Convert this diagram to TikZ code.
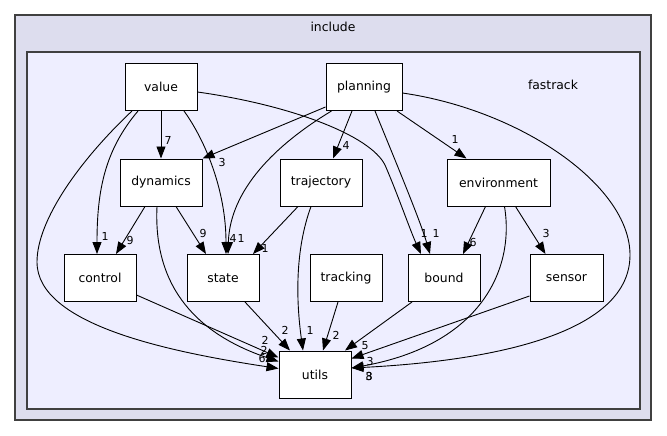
\documentclass[tikz,border=0pt]{standalone}
\usepackage{fontspec}
\setmainfont{DejaVu Sans}
\usetikzlibrary{arrows.meta}
\definecolor{outerfill}{HTML}{DDDDEE}
\definecolor{innerfill}{HTML}{EEEEFF}
\begin{document}
\begin{tikzpicture}[x=1pt,y=-1pt,
  dirbox/.style={draw=black, line width=1pt, fill=white, inner sep=0pt,
    minimum width=72pt, minimum height=47pt, font=\fontsize{12.4}{14}\selectfont},
  cluster/.style={draw=black!75, line width=1.2pt},
  dep/.style={draw=black, line width=0.9pt, -{Triangle[length=12pt,width=9pt]}},
  lbl/.style={inner sep=0pt, font=\fontsize{11}{12}\selectfont}]
\useasboundingbox (0,0) rectangle (667,436);
\filldraw[cluster, fill=outerfill] (15,15) rectangle (651,420);
\filldraw[cluster, fill=innerfill] (27,52) rectangle (640,409);
\node[font=\fontsize{12.4}{14}\selectfont] (incl) at (333,27) {include};
\node[font=\fontsize{12.4}{14}\selectfont] (fast) at (553,85) {fastrack};

\node[dirbox] (value) at (161,87) {value};
\node[dirbox, minimum width=76pt] (planning) at (364,87) {planning};
\node[dirbox, minimum width=82pt] (dynamics) at (161,182.5) {dynamics};
\node[dirbox, minimum width=82pt] (trajectory) at (321,182.5) {trajectory};
\node[dirbox, minimum width=103pt] (environment) at (498.5,182.5) {environment};
\node[dirbox] (control) at (100,278) {control};
\node[dirbox] (state) at (223,278) {state};
\node[dirbox] (tracking) at (346,278) {tracking};
\node[dirbox] (bound) at (444,278) {bound};
\node[dirbox, minimum width=73pt] (sensor) at (566.5,278) {sensor};
\node[dirbox] (utils) at (315,374.5) {utils};

% value
\draw[dep] (value.south) -- (dynamics.north) node[lbl] at (168,140) {7};
\draw[dep] ([xshift=23pt]value.south) .. controls (205,140) and (226,190) .. ([xshift=3pt]state.north)
  node[lbl] at (233,238) {4};
\draw[dep] ([xshift=-23pt]value.south) .. controls (105,150) and (97,190) .. ([xshift=-3pt]control.north)
  node[lbl] at (105,236) {1};
\draw[dep] ([xshift=-29pt]value.south) .. controls (80,160) and (37,220) .. (37,262)
  .. controls (37,325) and (170,352) .. ([yshift=6pt]utils.west)
  node[lbl] at (262,358) {6};
\draw[dep] ([yshift=-5pt]value.east) .. controls (290,105) and (370,135) .. (385,165)
  .. controls (398,195) and (410,230) .. ([xshift=-23pt]bound.north)
  node[lbl] at (424,233) {1};

% planning
\draw[dep] ([yshift=-20pt]planning.west) -- (dynamics.north east) node[lbl] at (222,162) {3};
\draw[dep] ([xshift=6pt]planning.south west) .. controls (275,145) and (230,190) .. ([xshift=5pt]state.north)
  node[lbl] at (241,238) {1};
\draw[dep] ([xshift=-12pt]planning.south) -- ([xshift=12pt]trajectory.north) node[lbl] at (346,145) {4};
\draw[dep] ([xshift=11pt]planning.south) .. controls (395,160) and (420,220) .. ([xshift=-14pt]bound.north)
  node[lbl] at (436,233) {1};
\draw[dep] ([xshift=33pt]planning.south) -- ([xshift=-32pt]environment.north) node[lbl] at (455,139) {1};
\draw[dep] ([yshift=-6pt]planning.east) .. controls (520,110) and (630,185) .. (630,255)
  .. controls (630,340) and (470,362) .. ([yshift=6.5pt]utils.east)
  node[lbl] at (369,376) {8};

% dynamics
\draw[dep] ([xshift=-16pt]dynamics.south) -- ([xshift=16pt]control.north) node[lbl] at (130,240) {9};
\draw[dep] ([xshift=15pt]dynamics.south) -- ([xshift=-17pt]state.north) node[lbl] at (203,233) {9};
\draw[dep] ([xshift=-4pt]dynamics.south) .. controls (153,290) and (200,335) .. ([yshift=13pt]utils.west)
  node[lbl] at (264,350) {2};

% control
\draw[dep] ([yshift=-17pt]control.east) -- ([yshift=17pt]utils.west) node[lbl] at (265,340) {2};

% trajectory
\draw[dep] ([xshift=-23pt]trajectory.south) -- ([xshift=30pt]state.north) node[lbl] at (265,248) {1};
\draw[dep] ([xshift=-10pt]trajectory.south) .. controls (295,250) and (296,300) .. ([xshift=-12pt]utils.north)
  node[lbl] at (310,330) {1};

% state, tracking, bound
\draw[dep] ([xshift=22pt]state.south) -- ([xshift=-25pt]utils.north) node[lbl] at (285,330) {2};
\draw[dep] ([xshift=-8pt]tracking.south) -- ([xshift=8pt]utils.north) node[lbl] at (336,335) {2};
\draw[dep] ([xshift=-32pt]bound.south) -- ([xshift=30pt]utils.north) node[lbl] at (365,346) {5};

% environment
\draw[dep] ([xshift=-13pt]environment.south) -- ([xshift=19pt]bound.north) node[lbl] at (473,242) {6};
\draw[dep] ([xshift=17pt]environment.south) -- ([xshift=-21pt]sensor.north) node[lbl] at (546,233) {3};
\draw[dep] ([xshift=6pt]environment.south) .. controls (515,270) and (480,345) .. ([yshift=6.5pt]utils.east)
  node[lbl] at (369,376) {3};

% sensor
\draw[dep] ([yshift=-18pt]sensor.west) -- ([yshift=16pt]utils.east) node[lbl] at (370,361) {3};
\end{tikzpicture}
\end{document}
